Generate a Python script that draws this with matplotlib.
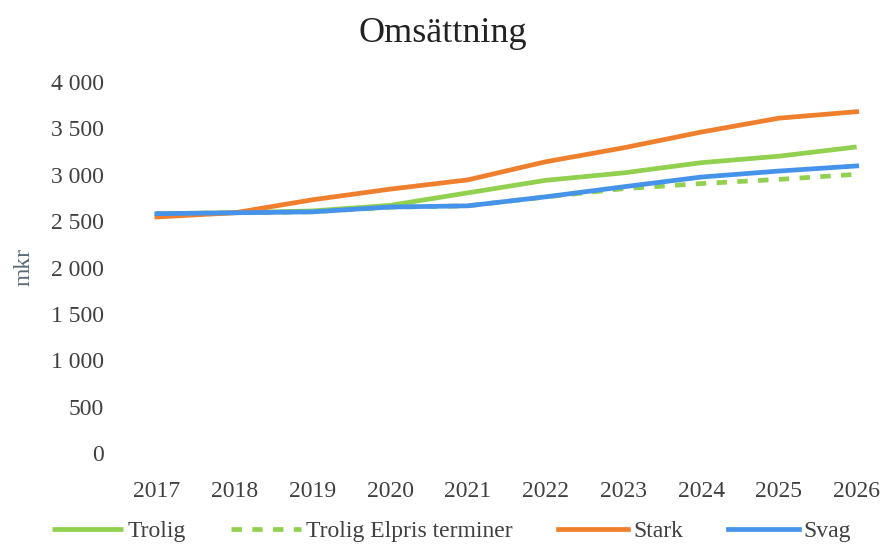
import matplotlib
matplotlib.use("Agg")
import matplotlib.pyplot as plt
from matplotlib.ticker import FuncFormatter

years = [2017, 2018, 2019, 2020, 2021, 2022, 2023, 2024, 2025, 2026]
trolig = [2580, 2590, 2610, 2670, 2805, 2940, 3020, 3130, 3200, 3300]
trolig_elpris = [2580, 2590, 2600, 2650, 2665, 2760, 2850, 2905, 2950, 3005]
stark = [2545, 2590, 2730, 2845, 2945, 3140, 3290, 3460, 3610, 3680]
svag = [2580, 2590, 2600, 2652, 2665, 2762, 2870, 2975, 3040, 3095]
yticks = [0, 500, 1000, 1500, 2000, 2500, 3000, 3500, 4000]

FONT = ["Liberation Serif", "DejaVu Serif"]
plt.rcParams["font.family"] = FONT
TXT = "#404040"

fig = plt.figure(figsize=(8.85, 5.48), dpi=100)
ax = fig.add_axes([118 / 885, 1 - 453 / 548, (880 - 118) / 885, (453 - 82) / 548])

lw = 3.4
ax.plot(years, trolig, color="#92D050", lw=lw, label="Trolig", solid_capstyle="butt")
ax.plot(years, trolig_elpris, color="#92D050", lw=lw, ls=(0, (2.2, 2.2)), label="Trolig Elpris terminer")
ax.plot(years, stark, color="#F07F2D", lw=lw, label="Stark")
ax.plot(years, svag, color="#4593EA", lw=lw, label="Svag")

ax.set_xlim(2016.5, 2026.3)
ax.set_ylim(0, 4000)
ax.set_xticks(years)
ax.set_xticklabels([str(y) for y in years])
ax.set_yticks(yticks)
ax.yaxis.set_major_formatter(FuncFormatter(lambda v, p: f"{int(v):,}".replace(",", " ")))
for s in ax.spines.values():
    s.set_visible(False)
ax.tick_params(length=0, labelsize=17, colors=TXT)
ax.tick_params(axis="x", pad=20)
ax.tick_params(axis="y", pad=10)

ax.set_ylabel("mkr", fontsize=17, color="#5A6A7A", labelpad=12)
fig.text(0.5, 1 - 33 / 548, "Omsättning", ha="center", va="center", fontsize=26, color="#222222")

fig.legend(loc="lower center", bbox_to_anchor=(0.51, -0.028), ncol=4, frameon=False,
           fontsize=17, handlelength=3.0, columnspacing=1.9, handletextpad=0.2,
           labelcolor=TXT)

fig.savefig("out.png", dpi=100, facecolor="white")
